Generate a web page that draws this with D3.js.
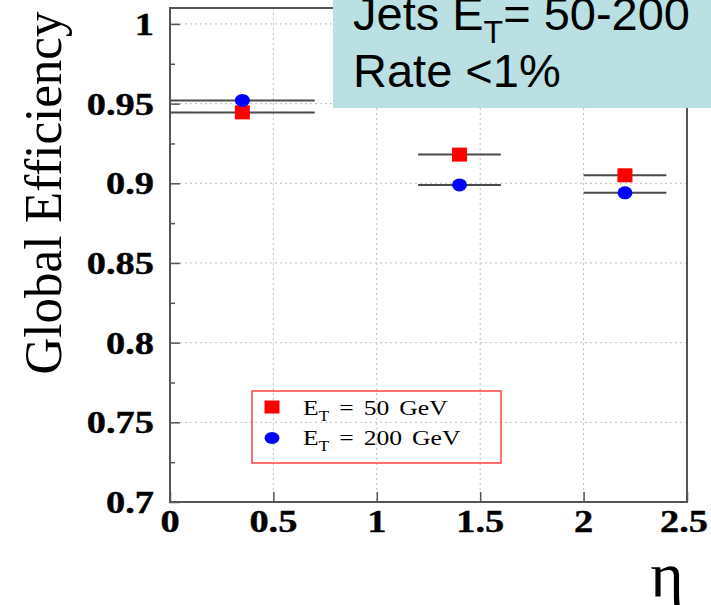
<!DOCTYPE html>
<html>
<head>
<meta charset="utf-8">
<script src="https://cdn.jsdelivr.net/npm/d3@7"></script>
<style>
  html, body { margin: 0; padding: 0; background: #fff; }
  svg { display: block; }
</style>
</head>
<body>
<svg id="chart" width="711" height="605"></svg>
<script>
// eta bins (lower / upper edge) and global efficiency per jet ET
const etaLow = [0.0, 1.2, 2.0];
const etaHigh = [0.7, 1.6, 2.4];
const eff50 = [0.9445, 0.918, 0.905];
const eff200 = [0.952, 0.899, 0.894];

const yMajor = [0.7, 0.75, 0.8, 0.85, 0.9, 0.95, 1.0];
const yMinor = [0.725, 0.775, 0.825, 0.875, 0.925, 0.975];
const xMajor = [0, 0.5, 1, 1.5, 2, 2.5];
const yTickLabels = ["0.7", "0.75", "0.8", "0.85", "0.9", "0.95", "1"];
const xTickLabels = ["0", "0.5", "1", "1.5", "2", "2.5"];

const legendLabels = [{ sub: "T", rest: " = 50 GeV" }, { sub: "T", rest: " = 200 GeV" }];

const svg = d3.select("#chart");
const L = 170, R = 687, T = 8, B = 502;

const x = d3.scaleLinear().domain([0, 2.5]).range([L, R]);
const y = d3.scaleLinear().domain([0.7, 1.01]).range([B, T]);

const serif = "'Liberation Serif', 'Times New Roman', serif";
const sans = "'Liberation Sans', Arial, Helvetica, sans-serif";

// dotted grid at major ticks
const grid = svg.append("g").attr("stroke", "#bdbdbd").attr("stroke-width", 1)
  .attr("stroke-dasharray", "2,3");
grid.selectAll("line.gy").data(yMajor.slice(1)).join("line")
  .attr("x1", L).attr("x2", R).attr("y1", d => y(d)).attr("y2", d => y(d));
grid.selectAll("line.gx").data(xMajor.slice(1, -1)).join("line")
  .attr("x1", d => x(d)).attr("x2", d => x(d)).attr("y1", T).attr("y2", B);

// inward ticks
const yAxis = svg.append("g").attr("transform", `translate(${L},0)`)
  .call(d3.axisLeft(y).tickValues(yMajor).tickSize(-10).tickFormat(""));
const yAxisMinor = svg.append("g").attr("transform", `translate(${L},0)`)
  .call(d3.axisLeft(y).tickValues(yMinor).tickSize(-5).tickFormat(""));
const xAxis = svg.append("g").attr("transform", `translate(0,${B})`)
  .call(d3.axisBottom(x).tickValues(xMajor).tickSize(-10).tickFormat(""));
[yAxis, yAxisMinor, xAxis].forEach(g => {
  g.select(".domain").remove();
  g.selectAll(".tick line").attr("stroke", "#555").attr("stroke-width", 1.5);
});

// frame
svg.append("rect").attr("x", L).attr("y", T).attr("width", R - L).attr("height", B - T)
  .attr("fill", "none").attr("stroke", "#555").attr("stroke-width", 2);

// tick labels (bold, slightly wide)
const sx = 1.2;
svg.append("g").selectAll("text").data(yMajor).join("text")
  .attr("transform", d => `translate(154,${y(d) + 11}) scale(${sx},1)`)
  .attr("text-anchor", "end")
  .attr("font-family", serif).attr("font-weight", "bold").attr("font-size", 32)
  .attr("stroke", "#000").attr("stroke-width", 0.4)
  .text((d, i) => yTickLabels[i]);
svg.append("g").selectAll("text").data(xMajor).join("text")
  .attr("transform", d => `translate(${x(d) - (d === 2.5 ? 3 : 0)},532) scale(${sx},1)`)
  .attr("text-anchor", "middle")
  .attr("font-family", serif).attr("font-weight", "bold").attr("font-size", 32)
  .attr("stroke", "#000").attr("stroke-width", 0.4)
  .text((d, i) => xTickLabels[i]);

// axis titles
svg.append("text")
  .attr("transform", "translate(61,193) rotate(-90) scale(1,1.05)")
  .attr("text-anchor", "middle")
  .attr("font-family", serif).attr("font-size", 51)
  .text("Global Efficiency");
svg.append("text")
  .attr("x", 667).attr("y", 596)
  .attr("text-anchor", "middle")
  .attr("font-family", serif).attr("font-size", 64)
  .text("η");

// horizontal bin-width bars
const bins = etaLow.map((lo, i) => ({ lo, hi: etaHigh[i], mid: (lo + etaHigh[i]) / 2, e50: eff50[i], e200: eff200[i] }));
const bars = svg.append("g").attr("stroke", "#4a4a4a").attr("stroke-width", 2);
bars.selectAll("line.a").data(bins).join("line")
  .attr("x1", d => x(d.lo)).attr("x2", d => x(d.hi))
  .attr("y1", d => y(d.e50)).attr("y2", d => y(d.e50));
bars.selectAll("line.b").data(bins).join("line")
  .attr("x1", d => x(d.lo)).attr("x2", d => x(d.hi))
  .attr("y1", d => y(d.e200)).attr("y2", d => y(d.e200));

// markers
svg.append("g").selectAll("rect").data(bins).join("rect")
  .attr("x", d => x(d.mid) - 7.5).attr("y", d => y(d.e50) - 7)
  .attr("width", 15).attr("height", 14).attr("fill", "#ff0000");
svg.append("g").selectAll("ellipse").data(bins).join("ellipse")
  .attr("cx", d => x(d.mid)).attr("cy", d => y(d.e200))
  .attr("rx", 7.5).attr("ry", 6.5).attr("fill", "#0000ff");

// legend
const lg = svg.append("g");
lg.append("rect").attr("x", 252).attr("y", 391).attr("width", 249).attr("height", 72)
  .attr("fill", "none").attr("stroke", "#ff4d4d").attr("stroke-width", 1.6);
lg.append("rect").attr("x", 264.5).attr("y", 400.5).attr("width", 15).attr("height", 13).attr("fill", "#ff0000");
lg.append("ellipse").attr("cx", 272).attr("cy", 438).attr("rx", 7.5).attr("ry", 6).attr("fill", "#0000ff");
legendLabels.forEach((lab, i) => {
  const t = lg.append("text")
    .attr("transform", `translate(303,${415 + i * 30}) scale(1.22,1)`)
    .attr("font-family", serif).attr("font-size", 21)
    .style("word-spacing", "3px");
  t.append("tspan").text("E");
  t.append("tspan").attr("font-size", 14).attr("dy", 6).text(lab.sub);
  t.append("tspan").attr("dy", -6).text(lab.rest);
});

// annotation box
svg.append("rect").attr("x", 333).attr("y", -2).attr("width", 380).attr("height", 110)
  .attr("fill", "#bbe0e3");
const ann = svg.append("text").attr("x", 353).attr("y", 30)
  .attr("font-family", sans).attr("font-size", 47).attr("fill", "#000");
ann.append("tspan").text("Jets E");
ann.append("tspan").attr("font-size", 32).attr("dy", 13).text("T");
ann.append("tspan").attr("dy", -13).text("= 50-200");
svg.append("text").attr("x", 353).attr("y", 87)
  .attr("font-family", sans).attr("font-size", 47).attr("fill", "#000")
  .text("Rate <1%");
</script>
</body>
</html>
